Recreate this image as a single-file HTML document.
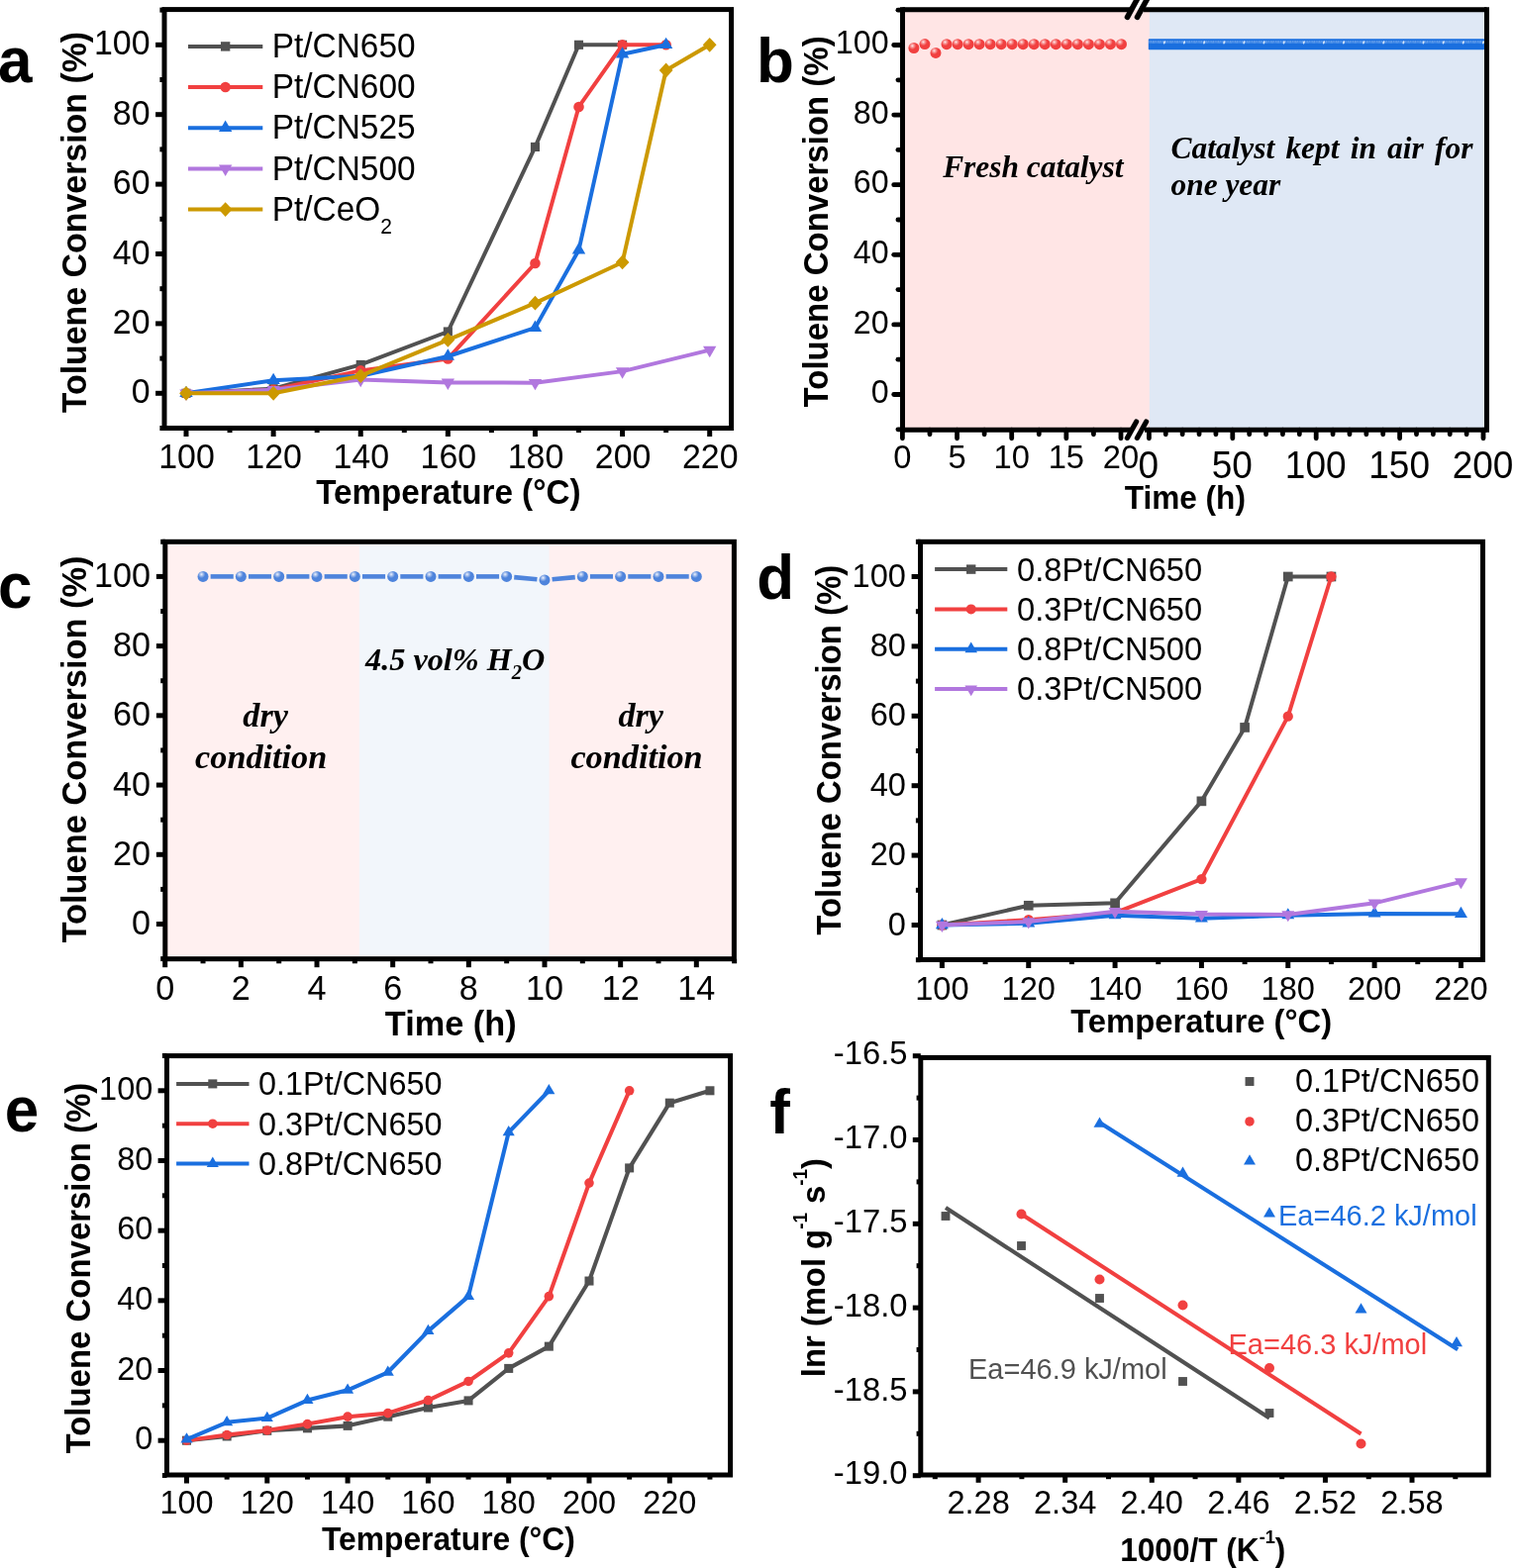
<!DOCTYPE html>
<html lang="en"><head><meta charset="utf-8"><title>Toluene conversion figure</title>
<style>
html,body{margin:0;padding:0;background:#fff;}
body{width:1529px;height:1584px;overflow:hidden;font-family:"Liberation Sans",Arial,sans-serif;}
svg{display:block;}
</style></head><body>
<svg width="1529" height="1584" viewBox="0 0 1529 1584" role="img" aria-label="Six-panel figure of toluene conversion data">
<defs>
<radialGradient id="gr" cx="0.36" cy="0.3" r="0.7" fx="0.36" fy="0.3">
<stop offset="0" stop-color="#FDE6E6"/><stop offset="0.25" stop-color="#F78A8A"/><stop offset="0.5" stop-color="#F14040"/><stop offset="1" stop-color="#F14040"/>
</radialGradient>
<radialGradient id="gb" cx="0.36" cy="0.3" r="0.7" fx="0.36" fy="0.3">
<stop offset="0" stop-color="#EDF2FC"/><stop offset="0.25" stop-color="#98B6EA"/><stop offset="0.5" stop-color="#4E84DC"/><stop offset="1" stop-color="#4E84DC"/>
</radialGradient>
</defs>
<rect x="0" y="0" width="1529" height="1584" fill="#fff"/>
<g id="panel-a" class="panel" role="img" aria-label="Toluene conversion versus temperature for Pt/CN catalysts and Pt/CeO2">
<rect x="166" y="9.6" width="572.6" height="422.9" fill="none" stroke="#000" stroke-width="5.0"/>
<line x1="188" y1="432.5" x2="188" y2="441" stroke="#000" stroke-width="5" stroke-linecap="butt"/>
<line x1="276.12" y1="432.5" x2="276.12" y2="441" stroke="#000" stroke-width="5" stroke-linecap="butt"/>
<line x1="364.23" y1="432.5" x2="364.23" y2="441" stroke="#000" stroke-width="5" stroke-linecap="butt"/>
<line x1="452.35" y1="432.5" x2="452.35" y2="441" stroke="#000" stroke-width="5" stroke-linecap="butt"/>
<line x1="540.46" y1="432.5" x2="540.46" y2="441" stroke="#000" stroke-width="5" stroke-linecap="butt"/>
<line x1="628.58" y1="432.5" x2="628.58" y2="441" stroke="#000" stroke-width="5" stroke-linecap="butt"/>
<line x1="716.7" y1="432.5" x2="716.7" y2="441" stroke="#000" stroke-width="5" stroke-linecap="butt"/>
<line x1="232.06" y1="432.5" x2="232.06" y2="437.1" stroke="#000" stroke-width="5" stroke-linecap="butt"/>
<line x1="320.17" y1="432.5" x2="320.17" y2="437.1" stroke="#000" stroke-width="5" stroke-linecap="butt"/>
<line x1="408.29" y1="432.5" x2="408.29" y2="437.1" stroke="#000" stroke-width="5" stroke-linecap="butt"/>
<line x1="496.41" y1="432.5" x2="496.41" y2="437.1" stroke="#000" stroke-width="5" stroke-linecap="butt"/>
<line x1="584.52" y1="432.5" x2="584.52" y2="437.1" stroke="#000" stroke-width="5" stroke-linecap="butt"/>
<line x1="672.64" y1="432.5" x2="672.64" y2="437.1" stroke="#000" stroke-width="5" stroke-linecap="butt"/>
<line x1="166" y1="397.3" x2="157.1" y2="397.3" stroke="#000" stroke-width="5" stroke-linecap="butt"/>
<line x1="166" y1="326.9" x2="157.1" y2="326.9" stroke="#000" stroke-width="5" stroke-linecap="butt"/>
<line x1="166" y1="256.5" x2="157.1" y2="256.5" stroke="#000" stroke-width="5" stroke-linecap="butt"/>
<line x1="166" y1="186.1" x2="157.1" y2="186.1" stroke="#000" stroke-width="5" stroke-linecap="butt"/>
<line x1="166" y1="115.7" x2="157.1" y2="115.7" stroke="#000" stroke-width="5" stroke-linecap="butt"/>
<line x1="166" y1="45.3" x2="157.1" y2="45.3" stroke="#000" stroke-width="5" stroke-linecap="butt"/>
<line x1="166" y1="432.5" x2="161.4" y2="432.5" stroke="#000" stroke-width="5" stroke-linecap="butt"/>
<line x1="166" y1="362.1" x2="161.4" y2="362.1" stroke="#000" stroke-width="5" stroke-linecap="butt"/>
<line x1="166" y1="291.7" x2="161.4" y2="291.7" stroke="#000" stroke-width="5" stroke-linecap="butt"/>
<line x1="166" y1="221.3" x2="161.4" y2="221.3" stroke="#000" stroke-width="5" stroke-linecap="butt"/>
<line x1="166" y1="150.9" x2="161.4" y2="150.9" stroke="#000" stroke-width="5" stroke-linecap="butt"/>
<line x1="166" y1="80.5" x2="161.4" y2="80.5" stroke="#000" stroke-width="5" stroke-linecap="butt"/>
<line x1="166" y1="10.1" x2="161.4" y2="10.1" stroke="#000" stroke-width="5" stroke-linecap="butt"/>
<text transform="translate(188.5,472.5) scale(1,1.04)" font-family="'Liberation Sans', Arial, sans-serif" font-size="33.9" font-weight="normal" text-anchor="middle" fill="#000" >100</text>
<text transform="translate(276.62,472.5) scale(1,1.04)" font-family="'Liberation Sans', Arial, sans-serif" font-size="33.9" font-weight="normal" text-anchor="middle" fill="#000" >120</text>
<text transform="translate(364.73,472.5) scale(1,1.04)" font-family="'Liberation Sans', Arial, sans-serif" font-size="33.9" font-weight="normal" text-anchor="middle" fill="#000" >140</text>
<text transform="translate(452.85,472.5) scale(1,1.04)" font-family="'Liberation Sans', Arial, sans-serif" font-size="33.9" font-weight="normal" text-anchor="middle" fill="#000" >160</text>
<text transform="translate(540.96,472.5) scale(1,1.04)" font-family="'Liberation Sans', Arial, sans-serif" font-size="33.9" font-weight="normal" text-anchor="middle" fill="#000" >180</text>
<text transform="translate(629.08,472.5) scale(1,1.04)" font-family="'Liberation Sans', Arial, sans-serif" font-size="33.9" font-weight="normal" text-anchor="middle" fill="#000" >200</text>
<text transform="translate(717.2,472.5) scale(1,1.04)" font-family="'Liberation Sans', Arial, sans-serif" font-size="33.9" font-weight="normal" text-anchor="middle" fill="#000" >220</text>
<text transform="translate(151.5,407.3) scale(1,1.04)" font-family="'Liberation Sans', Arial, sans-serif" font-size="33.9" font-weight="normal" text-anchor="end" fill="#000" >0</text>
<text transform="translate(151.5,336.9) scale(1,1.04)" font-family="'Liberation Sans', Arial, sans-serif" font-size="33.9" font-weight="normal" text-anchor="end" fill="#000" >20</text>
<text transform="translate(151.5,266.5) scale(1,1.04)" font-family="'Liberation Sans', Arial, sans-serif" font-size="33.9" font-weight="normal" text-anchor="end" fill="#000" >40</text>
<text transform="translate(151.5,196.1) scale(1,1.04)" font-family="'Liberation Sans', Arial, sans-serif" font-size="33.9" font-weight="normal" text-anchor="end" fill="#000" >60</text>
<text transform="translate(151.5,125.7) scale(1,1.04)" font-family="'Liberation Sans', Arial, sans-serif" font-size="33.9" font-weight="normal" text-anchor="end" fill="#000" >80</text>
<text transform="translate(151.5,55.3) scale(1,1.04)" font-family="'Liberation Sans', Arial, sans-serif" font-size="33.9" font-weight="normal" text-anchor="end" fill="#000" >100</text>
<text transform="translate(86.6,224.55) rotate(-90) scale(1,1.04)" font-family="'Liberation Sans', Arial, sans-serif" font-size="33.9" font-weight="bold" text-anchor="middle" fill="#000">Toluene Conversion (%)</text>
<text transform="translate(452.85,509.2) scale(1,1.04)" font-family="'Liberation Sans', Arial, sans-serif" font-size="33.2" font-weight="bold" text-anchor="middle" fill="#000" >Temperature (°C)</text>
<text transform="translate(-2,82.8) scale(1,1.05)" font-family="'Liberation Sans', Arial, sans-serif" font-size="62" font-weight="bold" text-anchor="start" fill="#000" >a</text>
<path d="M188 397.3L276.12 392.72L364.23 368.44L452.35 335L540.46 148.44L584.52 45.3L628.58 45.3" fill="none" stroke="#515151" stroke-width="4.0" stroke-linejoin="round"/>
<rect x="183.44" y="392.74" width="9.12" height="9.12" fill="#515151"/>
<rect x="271.56" y="388.16" width="9.12" height="9.12" fill="#515151"/>
<rect x="359.67" y="363.88" width="9.12" height="9.12" fill="#515151"/>
<rect x="447.79" y="330.44" width="9.12" height="9.12" fill="#515151"/>
<rect x="535.9" y="143.88" width="9.12" height="9.12" fill="#515151"/>
<rect x="579.96" y="40.74" width="9.12" height="9.12" fill="#515151"/>
<rect x="624.02" y="40.74" width="9.12" height="9.12" fill="#515151"/>
<path d="M188 397.3L276.12 393.78L364.23 374.42L452.35 362.45L540.46 266L584.52 107.96L628.58 45.3L672.64 45.3" fill="none" stroke="#F14040" stroke-width="4.0" stroke-linejoin="round"/>
<circle cx="188" cy="397.3" r="5.3" fill="#F14040"/>
<circle cx="276.12" cy="393.78" r="5.3" fill="#F14040"/>
<circle cx="364.23" cy="374.42" r="5.3" fill="#F14040"/>
<circle cx="452.35" cy="362.45" r="5.3" fill="#F14040"/>
<circle cx="540.46" cy="266" r="5.3" fill="#F14040"/>
<circle cx="584.52" cy="107.96" r="5.3" fill="#F14040"/>
<circle cx="628.58" cy="45.3" r="5.3" fill="#F14040"/>
<circle cx="672.64" cy="45.3" r="5.3" fill="#F14040"/>
<path d="M188 397.3L276.12 384.28L364.23 379.7L452.35 359.99L540.46 331.12L584.52 252.63L628.58 54.8L672.64 45.3" fill="none" stroke="#1A6FDF" stroke-width="4.0" stroke-linejoin="round"/>
<path d="M188 389.67L194.68 401.12L181.32 401.12Z" fill="#1A6FDF"/>
<path d="M276.12 376.64L282.79 388.09L269.44 388.09Z" fill="#1A6FDF"/>
<path d="M364.23 372.07L370.91 383.52L357.55 383.52Z" fill="#1A6FDF"/>
<path d="M452.35 352.36L459.03 363.8L445.67 363.8Z" fill="#1A6FDF"/>
<path d="M540.46 323.49L547.14 334.94L533.79 334.94Z" fill="#1A6FDF"/>
<path d="M584.52 245L591.2 256.44L577.84 256.44Z" fill="#1A6FDF"/>
<path d="M628.58 47.17L635.26 58.62L621.9 58.62Z" fill="#1A6FDF"/>
<path d="M672.64 37.67L679.32 49.12L665.96 49.12Z" fill="#1A6FDF"/>
<path d="M188 397.3L276.12 393.78L364.23 383.57L452.35 386.39L540.46 386.74L628.58 375.12L716.7 353.65" fill="none" stroke="#B177DE" stroke-width="4.0" stroke-linejoin="round"/>
<path d="M188 404.93L194.68 393.48L181.32 393.48Z" fill="#B177DE"/>
<path d="M276.12 401.41L282.79 389.96L269.44 389.96Z" fill="#B177DE"/>
<path d="M364.23 391.2L370.91 379.76L357.55 379.76Z" fill="#B177DE"/>
<path d="M452.35 394.02L459.03 382.57L445.67 382.57Z" fill="#B177DE"/>
<path d="M540.46 394.37L547.14 382.92L533.79 382.92Z" fill="#B177DE"/>
<path d="M628.58 382.76L635.26 371.31L621.9 371.31Z" fill="#B177DE"/>
<path d="M716.7 361.28L723.37 349.84L710.02 349.84Z" fill="#B177DE"/>
<path d="M188 397.3L276.12 397.3L364.23 379.7L452.35 343.44L540.46 306.13L628.58 264.95L672.64 71L716.7 45.3" fill="none" stroke="#CC9900" stroke-width="4.0" stroke-linejoin="round"/>
<path d="M188 389.88L194.89 397.3L188 404.72L181.11 397.3Z" fill="#CC9900"/>
<path d="M276.12 389.88L283.01 397.3L276.12 404.72L269.23 397.3Z" fill="#CC9900"/>
<path d="M364.23 372.28L371.12 379.7L364.23 387.12L357.34 379.7Z" fill="#CC9900"/>
<path d="M452.35 336.02L459.24 343.44L452.35 350.86L445.46 343.44Z" fill="#CC9900"/>
<path d="M540.46 298.71L547.35 306.13L540.46 313.55L533.57 306.13Z" fill="#CC9900"/>
<path d="M628.58 257.53L635.47 264.95L628.58 272.37L621.69 264.95Z" fill="#CC9900"/>
<path d="M672.64 63.58L679.53 71L672.64 78.42L665.75 71Z" fill="#CC9900"/>
<path d="M716.7 37.88L723.59 45.3L716.7 52.72L709.81 45.3Z" fill="#CC9900"/>
<line x1="190" y1="46.9" x2="265.3" y2="46.9" stroke="#515151" stroke-width="4.0"/>
<rect x="222.95" y="42.2" width="9.4" height="9.4" fill="#515151"/>
<text transform="translate(274.8,57.9) scale(1,1.04)" font-family="'Liberation Sans', Arial, sans-serif" font-size="33.4" font-weight="normal" text-anchor="start" fill="#000" >Pt/CN650</text>
<line x1="190" y1="88" x2="265.3" y2="88" stroke="#F14040" stroke-width="4.0"/>
<circle cx="227.65" cy="88" r="5.3" fill="#F14040"/>
<text transform="translate(274.8,99.12) scale(1,1.04)" font-family="'Liberation Sans', Arial, sans-serif" font-size="33.4" font-weight="normal" text-anchor="start" fill="#000" >Pt/CN600</text>
<line x1="190" y1="129.2" x2="265.3" y2="129.2" stroke="#1A6FDF" stroke-width="4.0"/>
<path d="M227.65 121.57L234.33 133.02L220.97 133.02Z" fill="#1A6FDF"/>
<text transform="translate(274.8,140.44) scale(1,1.04)" font-family="'Liberation Sans', Arial, sans-serif" font-size="33.4" font-weight="normal" text-anchor="start" fill="#000" >Pt/CN525</text>
<line x1="190" y1="170.4" x2="265.3" y2="170.4" stroke="#B177DE" stroke-width="4.0"/>
<path d="M227.65 178.03L234.33 166.58L220.97 166.58Z" fill="#B177DE"/>
<text transform="translate(274.8,181.76) scale(1,1.04)" font-family="'Liberation Sans', Arial, sans-serif" font-size="33.4" font-weight="normal" text-anchor="start" fill="#000" >Pt/CN500</text>
<line x1="190" y1="211.6" x2="265.3" y2="211.6" stroke="#CC9900" stroke-width="4.0"/>
<path d="M227.65 204.18L234.54 211.6L227.65 219.02L220.76 211.6Z" fill="#CC9900"/>
<text transform="translate(274.8,223.08) scale(1,1.04)" font-family="'Liberation Sans', Arial, sans-serif" font-size="33.4" font-weight="normal" text-anchor="start" fill="#000" >Pt/CeO<tspan font-size="21" dy="12.5">2</tspan></text>
</g>
<g id="panel-b" class="panel" role="img" aria-label="Stability of fresh catalyst and catalyst kept in air for one year">
<rect x="911.5" y="9.7" width="250.5" height="424.5" fill="#FFE5E5"/>
<rect x="1160.8" y="9.7" width="340.7" height="424.5" fill="#DFE8F5"/>
<circle cx="922.93" cy="48.5" r="5.5" fill="url(#gr)"/>
<circle cx="933.96" cy="44.6" r="5.5" fill="url(#gr)"/>
<circle cx="944.99" cy="53.4" r="5.5" fill="url(#gr)"/>
<circle cx="956.02" cy="44.7" r="5.5" fill="url(#gr)"/>
<circle cx="967.05" cy="44.7" r="5.5" fill="url(#gr)"/>
<circle cx="978.08" cy="44.7" r="5.5" fill="url(#gr)"/>
<circle cx="989.11" cy="44.7" r="5.5" fill="url(#gr)"/>
<circle cx="1000.14" cy="44.7" r="5.5" fill="url(#gr)"/>
<circle cx="1011.17" cy="44.7" r="5.5" fill="url(#gr)"/>
<circle cx="1022.2" cy="44.7" r="5.5" fill="url(#gr)"/>
<circle cx="1033.23" cy="44.7" r="5.5" fill="url(#gr)"/>
<circle cx="1044.26" cy="44.7" r="5.5" fill="url(#gr)"/>
<circle cx="1055.29" cy="44.7" r="5.5" fill="url(#gr)"/>
<circle cx="1066.32" cy="44.7" r="5.5" fill="url(#gr)"/>
<circle cx="1077.35" cy="44.7" r="5.5" fill="url(#gr)"/>
<circle cx="1088.38" cy="44.7" r="5.5" fill="url(#gr)"/>
<circle cx="1099.41" cy="44.7" r="5.5" fill="url(#gr)"/>
<circle cx="1110.44" cy="44.7" r="5.5" fill="url(#gr)"/>
<circle cx="1121.47" cy="44.7" r="5.5" fill="url(#gr)"/>
<circle cx="1132.5" cy="44.7" r="5.5" fill="url(#gr)"/>
<rect x="1159.8" y="39.2" width="339.2" height="11" rx="0.8" fill="#1A6FDF"/>
<line x1="1160.5" y1="42.6" x2="1499" y2="42.6" stroke="#5D9AEA" stroke-width="2.6" stroke-dasharray="0.7 0.5"/>
<line x1="1160.5" y1="41.9" x2="1499" y2="41.9" stroke="#8DB8F0" stroke-width="0.9" stroke-dasharray="0.8 0.9"/>
<ellipse cx="1175.9" cy="42.9" rx="0.9" ry="1.7" fill="#D4E4F9" transform="rotate(20 1175.9 42.9)"/>
<ellipse cx="1196.03" cy="42.9" rx="0.9" ry="1.7" fill="#D4E4F9" transform="rotate(20 1196.03 42.9)"/>
<ellipse cx="1216.16" cy="42.9" rx="0.9" ry="1.7" fill="#D4E4F9" transform="rotate(20 1216.16 42.9)"/>
<ellipse cx="1236.29" cy="42.9" rx="0.9" ry="1.7" fill="#D4E4F9" transform="rotate(20 1236.29 42.9)"/>
<ellipse cx="1256.42" cy="42.9" rx="0.9" ry="1.7" fill="#D4E4F9" transform="rotate(20 1256.42 42.9)"/>
<ellipse cx="1276.55" cy="42.9" rx="0.9" ry="1.7" fill="#D4E4F9" transform="rotate(20 1276.55 42.9)"/>
<ellipse cx="1296.68" cy="42.9" rx="0.9" ry="1.7" fill="#D4E4F9" transform="rotate(20 1296.68 42.9)"/>
<ellipse cx="1316.81" cy="42.9" rx="0.9" ry="1.7" fill="#D4E4F9" transform="rotate(20 1316.81 42.9)"/>
<ellipse cx="1336.94" cy="42.9" rx="0.9" ry="1.7" fill="#D4E4F9" transform="rotate(20 1336.94 42.9)"/>
<ellipse cx="1357.07" cy="42.9" rx="0.9" ry="1.7" fill="#D4E4F9" transform="rotate(20 1357.07 42.9)"/>
<ellipse cx="1377.2" cy="42.9" rx="0.9" ry="1.7" fill="#D4E4F9" transform="rotate(20 1377.2 42.9)"/>
<ellipse cx="1397.33" cy="42.9" rx="0.9" ry="1.7" fill="#D4E4F9" transform="rotate(20 1397.33 42.9)"/>
<ellipse cx="1417.46" cy="42.9" rx="0.9" ry="1.7" fill="#D4E4F9" transform="rotate(20 1417.46 42.9)"/>
<ellipse cx="1437.59" cy="42.9" rx="0.9" ry="1.7" fill="#D4E4F9" transform="rotate(20 1437.59 42.9)"/>
<ellipse cx="1457.72" cy="42.9" rx="0.9" ry="1.7" fill="#D4E4F9" transform="rotate(20 1457.72 42.9)"/>
<ellipse cx="1477.85" cy="42.9" rx="0.9" ry="1.7" fill="#D4E4F9" transform="rotate(20 1477.85 42.9)"/>
<ellipse cx="1497.98" cy="42.9" rx="0.9" ry="1.7" fill="#D4E4F9" transform="rotate(20 1497.98 42.9)"/>
<path d="M911.5 7.2V436.7M1501.5 7.2V436.7" stroke="#000" stroke-width="5.0" fill="none"/>
<path d="M911.5 9.7H1143M1155 9.7H1501.5M911.5 434.2H1143M1156 434.2H1501.5" stroke="#000" stroke-width="5.0" fill="none"/>
<line x1="1138.5" y1="17.3" x2="1148.4" y2="-0.8" stroke="#000" stroke-width="5.6" stroke-linecap="round"/>
<line x1="1138.4" y1="442.4" x2="1147.6" y2="426" stroke="#000" stroke-width="5.2" stroke-linecap="round"/>
<line x1="1148.5" y1="17.3" x2="1158.4" y2="-0.8" stroke="#000" stroke-width="5.6" stroke-linecap="round"/>
<line x1="1148.4" y1="442.4" x2="1157.6" y2="426" stroke="#000" stroke-width="5.2" stroke-linecap="round"/>
<line x1="911.4" y1="434.2" x2="911.4" y2="442.8" stroke="#000" stroke-width="4.8" stroke-linecap="round"/>
<line x1="966.55" y1="434.2" x2="966.55" y2="442.8" stroke="#000" stroke-width="4.8" stroke-linecap="round"/>
<line x1="1021.7" y1="434.2" x2="1021.7" y2="442.8" stroke="#000" stroke-width="4.8" stroke-linecap="round"/>
<line x1="1076.85" y1="434.2" x2="1076.85" y2="442.8" stroke="#000" stroke-width="4.8" stroke-linecap="round"/>
<line x1="1132" y1="434.2" x2="1132" y2="442.8" stroke="#000" stroke-width="4.8" stroke-linecap="round"/>
<line x1="938.98" y1="434.2" x2="938.98" y2="438.8" stroke="#000" stroke-width="4.8" stroke-linecap="round"/>
<line x1="994.12" y1="434.2" x2="994.12" y2="438.8" stroke="#000" stroke-width="4.8" stroke-linecap="round"/>
<line x1="1049.28" y1="434.2" x2="1049.28" y2="438.8" stroke="#000" stroke-width="4.8" stroke-linecap="round"/>
<line x1="1104.42" y1="434.2" x2="1104.42" y2="438.8" stroke="#000" stroke-width="4.8" stroke-linecap="round"/>
<line x1="1160.4" y1="434.2" x2="1160.4" y2="442.8" stroke="#000" stroke-width="4.8" stroke-linecap="round"/>
<line x1="1244.8" y1="434.2" x2="1244.8" y2="442.8" stroke="#000" stroke-width="4.8" stroke-linecap="round"/>
<line x1="1329.2" y1="434.2" x2="1329.2" y2="442.8" stroke="#000" stroke-width="4.8" stroke-linecap="round"/>
<line x1="1413.6" y1="434.2" x2="1413.6" y2="442.8" stroke="#000" stroke-width="4.8" stroke-linecap="round"/>
<line x1="1498" y1="434.2" x2="1498" y2="442.8" stroke="#000" stroke-width="4.8" stroke-linecap="round"/>
<line x1="1177.28" y1="434.2" x2="1177.28" y2="438.8" stroke="#000" stroke-width="4.8" stroke-linecap="round"/>
<line x1="1194.16" y1="434.2" x2="1194.16" y2="438.8" stroke="#000" stroke-width="4.8" stroke-linecap="round"/>
<line x1="1211.04" y1="434.2" x2="1211.04" y2="438.8" stroke="#000" stroke-width="4.8" stroke-linecap="round"/>
<line x1="1227.92" y1="434.2" x2="1227.92" y2="438.8" stroke="#000" stroke-width="4.8" stroke-linecap="round"/>
<line x1="1261.68" y1="434.2" x2="1261.68" y2="438.8" stroke="#000" stroke-width="4.8" stroke-linecap="round"/>
<line x1="1278.56" y1="434.2" x2="1278.56" y2="438.8" stroke="#000" stroke-width="4.8" stroke-linecap="round"/>
<line x1="1295.44" y1="434.2" x2="1295.44" y2="438.8" stroke="#000" stroke-width="4.8" stroke-linecap="round"/>
<line x1="1312.32" y1="434.2" x2="1312.32" y2="438.8" stroke="#000" stroke-width="4.8" stroke-linecap="round"/>
<line x1="1346.08" y1="434.2" x2="1346.08" y2="438.8" stroke="#000" stroke-width="4.8" stroke-linecap="round"/>
<line x1="1362.96" y1="434.2" x2="1362.96" y2="438.8" stroke="#000" stroke-width="4.8" stroke-linecap="round"/>
<line x1="1379.84" y1="434.2" x2="1379.84" y2="438.8" stroke="#000" stroke-width="4.8" stroke-linecap="round"/>
<line x1="1396.72" y1="434.2" x2="1396.72" y2="438.8" stroke="#000" stroke-width="4.8" stroke-linecap="round"/>
<line x1="1430.48" y1="434.2" x2="1430.48" y2="438.8" stroke="#000" stroke-width="4.8" stroke-linecap="round"/>
<line x1="1447.36" y1="434.2" x2="1447.36" y2="438.8" stroke="#000" stroke-width="4.8" stroke-linecap="round"/>
<line x1="1464.24" y1="434.2" x2="1464.24" y2="438.8" stroke="#000" stroke-width="4.8" stroke-linecap="round"/>
<line x1="1481.12" y1="434.2" x2="1481.12" y2="438.8" stroke="#000" stroke-width="4.8" stroke-linecap="round"/>
<line x1="911.5" y1="398.5" x2="902.7" y2="398.5" stroke="#000" stroke-width="4.8" stroke-linecap="round"/>
<line x1="911.5" y1="327.9" x2="902.7" y2="327.9" stroke="#000" stroke-width="4.8" stroke-linecap="round"/>
<line x1="911.5" y1="257.3" x2="902.7" y2="257.3" stroke="#000" stroke-width="4.8" stroke-linecap="round"/>
<line x1="911.5" y1="186.7" x2="902.7" y2="186.7" stroke="#000" stroke-width="4.8" stroke-linecap="round"/>
<line x1="911.5" y1="116.1" x2="902.7" y2="116.1" stroke="#000" stroke-width="4.8" stroke-linecap="round"/>
<line x1="911.5" y1="45.5" x2="902.7" y2="45.5" stroke="#000" stroke-width="4.8" stroke-linecap="round"/>
<line x1="911.5" y1="433.8" x2="906.9" y2="433.8" stroke="#000" stroke-width="4.8" stroke-linecap="round"/>
<line x1="911.5" y1="363.2" x2="906.9" y2="363.2" stroke="#000" stroke-width="4.8" stroke-linecap="round"/>
<line x1="911.5" y1="292.6" x2="906.9" y2="292.6" stroke="#000" stroke-width="4.8" stroke-linecap="round"/>
<line x1="911.5" y1="222" x2="906.9" y2="222" stroke="#000" stroke-width="4.8" stroke-linecap="round"/>
<line x1="911.5" y1="151.4" x2="906.9" y2="151.4" stroke="#000" stroke-width="4.8" stroke-linecap="round"/>
<line x1="911.5" y1="80.8" x2="906.9" y2="80.8" stroke="#000" stroke-width="4.8" stroke-linecap="round"/>
<line x1="911.5" y1="10.2" x2="906.9" y2="10.2" stroke="#000" stroke-width="4.8" stroke-linecap="round"/>
<text transform="translate(911.4,472.8) scale(1,1.04)" font-family="'Liberation Sans', Arial, sans-serif" font-size="32.7" font-weight="normal" text-anchor="middle" fill="#000" >0</text>
<text transform="translate(966.55,472.8) scale(1,1.04)" font-family="'Liberation Sans', Arial, sans-serif" font-size="32.7" font-weight="normal" text-anchor="middle" fill="#000" >5</text>
<text transform="translate(1021.7,472.8) scale(1,1.04)" font-family="'Liberation Sans', Arial, sans-serif" font-size="32.7" font-weight="normal" text-anchor="middle" fill="#000" >10</text>
<text transform="translate(1076.85,472.8) scale(1,1.04)" font-family="'Liberation Sans', Arial, sans-serif" font-size="32.7" font-weight="normal" text-anchor="middle" fill="#000" >15</text>
<text transform="translate(1132,472.8) scale(1,1.04)" font-family="'Liberation Sans', Arial, sans-serif" font-size="32.7" font-weight="normal" text-anchor="middle" fill="#000" >20</text>
<text transform="translate(1159.9,482.6) scale(1,1.04)" font-family="'Liberation Sans', Arial, sans-serif" font-size="37" font-weight="normal" text-anchor="middle" fill="#000" >0</text>
<text transform="translate(1244.3,482.6) scale(1,1.04)" font-family="'Liberation Sans', Arial, sans-serif" font-size="37" font-weight="normal" text-anchor="middle" fill="#000" >50</text>
<text transform="translate(1328.7,482.6) scale(1,1.04)" font-family="'Liberation Sans', Arial, sans-serif" font-size="37" font-weight="normal" text-anchor="middle" fill="#000" >100</text>
<text transform="translate(1413.1,482.6) scale(1,1.04)" font-family="'Liberation Sans', Arial, sans-serif" font-size="37" font-weight="normal" text-anchor="middle" fill="#000" >150</text>
<text transform="translate(1497.5,482.6) scale(1,1.04)" font-family="'Liberation Sans', Arial, sans-serif" font-size="37" font-weight="normal" text-anchor="middle" fill="#000" >200</text>
<text transform="translate(897.6,407.2) scale(1,1.04)" font-family="'Liberation Sans', Arial, sans-serif" font-size="32.2" font-weight="normal" text-anchor="end" fill="#000" >0</text>
<text transform="translate(897.6,336.6) scale(1,1.04)" font-family="'Liberation Sans', Arial, sans-serif" font-size="32.2" font-weight="normal" text-anchor="end" fill="#000" >20</text>
<text transform="translate(897.6,266) scale(1,1.04)" font-family="'Liberation Sans', Arial, sans-serif" font-size="32.2" font-weight="normal" text-anchor="end" fill="#000" >40</text>
<text transform="translate(897.6,195.4) scale(1,1.04)" font-family="'Liberation Sans', Arial, sans-serif" font-size="32.2" font-weight="normal" text-anchor="end" fill="#000" >60</text>
<text transform="translate(897.6,124.8) scale(1,1.04)" font-family="'Liberation Sans', Arial, sans-serif" font-size="32.2" font-weight="normal" text-anchor="end" fill="#000" >80</text>
<text transform="translate(897.6,54.2) scale(1,1.04)" font-family="'Liberation Sans', Arial, sans-serif" font-size="32.2" font-weight="normal" text-anchor="end" fill="#000" >100</text>
<text transform="translate(835.6,223.9) rotate(-90) scale(1,1.04)" font-family="'Liberation Sans', Arial, sans-serif" font-size="33.0" font-weight="bold" text-anchor="middle" fill="#000">Toluene Conversion (%)</text>
<text transform="translate(1196.8,514) scale(1,1.04)" font-family="'Liberation Sans', Arial, sans-serif" font-size="31.6" font-weight="bold" text-anchor="middle" fill="#000" >Time (h)</text>
<text transform="translate(763.9,82.8) scale(1,1.03)" font-family="'Liberation Sans', Arial, sans-serif" font-size="62" font-weight="bold" text-anchor="start" fill="#000" >b</text>
<text transform="translate(1043.3,179) scale(1,1.0)" font-family="'Liberation Serif', 'Times New Roman', serif" font-size="31.4" font-weight="bold" text-anchor="middle" fill="#000" font-style="italic">Fresh catalyst</text>
<text transform="translate(1182.5,159.7) scale(1,1.0)" font-family="'Liberation Serif', 'Times New Roman', serif" font-size="31.4" font-weight="bold" text-anchor="start" fill="#000" font-style="italic" word-spacing="3.4">Catalyst kept in air for</text>
<text transform="translate(1182.5,196.7) scale(1,1.0)" font-family="'Liberation Serif', 'Times New Roman', serif" font-size="31.4" font-weight="bold" text-anchor="start" fill="#000" font-style="italic">one year</text>
</g>
<g id="panel-c" class="panel" role="img" aria-label="Toluene conversion under dry and 4.5 vol% H2O conditions">
<rect x="166.8" y="547.3" width="574.6" height="421.4" fill="#FFF0F0"/>
<rect x="362.8" y="547.3" width="191.8" height="421.4" fill="#F2F6FB"/>
<line x1="212.63" y1="582.4" x2="235.76" y2="582.4" stroke="#4E84DC" stroke-width="4.6"/>
<line x1="250.96" y1="582.4" x2="274.09" y2="582.4" stroke="#4E84DC" stroke-width="4.6"/>
<line x1="289.29" y1="582.4" x2="312.42" y2="582.4" stroke="#4E84DC" stroke-width="4.6"/>
<line x1="327.62" y1="582.4" x2="350.75" y2="582.4" stroke="#4E84DC" stroke-width="4.6"/>
<line x1="365.95" y1="582.4" x2="389.08" y2="582.4" stroke="#4E84DC" stroke-width="4.6"/>
<line x1="404.28" y1="582.4" x2="427.41" y2="582.4" stroke="#4E84DC" stroke-width="4.6"/>
<line x1="442.61" y1="582.4" x2="465.74" y2="582.4" stroke="#4E84DC" stroke-width="4.6"/>
<line x1="480.94" y1="582.4" x2="504.07" y2="582.4" stroke="#4E84DC" stroke-width="4.6"/>
<line x1="519.24" y1="583.09" x2="542.43" y2="585.22" stroke="#4E84DC" stroke-width="4.6"/>
<line x1="557.57" y1="585.22" x2="580.76" y2="583.09" stroke="#4E84DC" stroke-width="4.6"/>
<line x1="595.93" y1="582.4" x2="619.06" y2="582.4" stroke="#4E84DC" stroke-width="4.6"/>
<line x1="634.26" y1="582.4" x2="657.39" y2="582.4" stroke="#4E84DC" stroke-width="4.6"/>
<line x1="672.59" y1="582.4" x2="695.72" y2="582.4" stroke="#4E84DC" stroke-width="4.6"/>
<circle cx="205.03" cy="582.4" r="5.5" fill="url(#gb)"/>
<circle cx="243.36" cy="582.4" r="5.5" fill="url(#gb)"/>
<circle cx="281.69" cy="582.4" r="5.5" fill="url(#gb)"/>
<circle cx="320.02" cy="582.4" r="5.5" fill="url(#gb)"/>
<circle cx="358.35" cy="582.4" r="5.5" fill="url(#gb)"/>
<circle cx="396.68" cy="582.4" r="5.5" fill="url(#gb)"/>
<circle cx="435.01" cy="582.4" r="5.5" fill="url(#gb)"/>
<circle cx="473.34" cy="582.4" r="5.5" fill="url(#gb)"/>
<circle cx="511.67" cy="582.4" r="5.5" fill="url(#gb)"/>
<circle cx="550" cy="585.91" r="5.5" fill="url(#gb)"/>
<circle cx="588.33" cy="582.4" r="5.5" fill="url(#gb)"/>
<circle cx="626.66" cy="582.4" r="5.5" fill="url(#gb)"/>
<circle cx="664.99" cy="582.4" r="5.5" fill="url(#gb)"/>
<circle cx="703.32" cy="582.4" r="5.5" fill="url(#gb)"/>
<rect x="166.8" y="547.3" width="574.6" height="421.4" fill="none" stroke="#000" stroke-width="5.0"/>
<line x1="166.7" y1="968.7" x2="166.7" y2="977.2" stroke="#000" stroke-width="5" stroke-linecap="butt"/>
<line x1="243.36" y1="968.7" x2="243.36" y2="977.2" stroke="#000" stroke-width="5" stroke-linecap="butt"/>
<line x1="320.02" y1="968.7" x2="320.02" y2="977.2" stroke="#000" stroke-width="5" stroke-linecap="butt"/>
<line x1="396.68" y1="968.7" x2="396.68" y2="977.2" stroke="#000" stroke-width="5" stroke-linecap="butt"/>
<line x1="473.34" y1="968.7" x2="473.34" y2="977.2" stroke="#000" stroke-width="5" stroke-linecap="butt"/>
<line x1="550" y1="968.7" x2="550" y2="977.2" stroke="#000" stroke-width="5" stroke-linecap="butt"/>
<line x1="626.66" y1="968.7" x2="626.66" y2="977.2" stroke="#000" stroke-width="5" stroke-linecap="butt"/>
<line x1="703.32" y1="968.7" x2="703.32" y2="977.2" stroke="#000" stroke-width="5" stroke-linecap="butt"/>
<line x1="205.03" y1="968.7" x2="205.03" y2="973.3" stroke="#000" stroke-width="5" stroke-linecap="butt"/>
<line x1="281.69" y1="968.7" x2="281.69" y2="973.3" stroke="#000" stroke-width="5" stroke-linecap="butt"/>
<line x1="358.35" y1="968.7" x2="358.35" y2="973.3" stroke="#000" stroke-width="5" stroke-linecap="butt"/>
<line x1="435.01" y1="968.7" x2="435.01" y2="973.3" stroke="#000" stroke-width="5" stroke-linecap="butt"/>
<line x1="511.67" y1="968.7" x2="511.67" y2="973.3" stroke="#000" stroke-width="5" stroke-linecap="butt"/>
<line x1="588.33" y1="968.7" x2="588.33" y2="973.3" stroke="#000" stroke-width="5" stroke-linecap="butt"/>
<line x1="664.99" y1="968.7" x2="664.99" y2="973.3" stroke="#000" stroke-width="5" stroke-linecap="butt"/>
<line x1="741.65" y1="968.7" x2="741.65" y2="973.3" stroke="#000" stroke-width="5" stroke-linecap="butt"/>
<line x1="166.8" y1="933.5" x2="157.9" y2="933.5" stroke="#000" stroke-width="5" stroke-linecap="butt"/>
<line x1="166.8" y1="863.28" x2="157.9" y2="863.28" stroke="#000" stroke-width="5" stroke-linecap="butt"/>
<line x1="166.8" y1="793.06" x2="157.9" y2="793.06" stroke="#000" stroke-width="5" stroke-linecap="butt"/>
<line x1="166.8" y1="722.84" x2="157.9" y2="722.84" stroke="#000" stroke-width="5" stroke-linecap="butt"/>
<line x1="166.8" y1="652.62" x2="157.9" y2="652.62" stroke="#000" stroke-width="5" stroke-linecap="butt"/>
<line x1="166.8" y1="582.4" x2="157.9" y2="582.4" stroke="#000" stroke-width="5" stroke-linecap="butt"/>
<line x1="166.8" y1="968.61" x2="162.2" y2="968.61" stroke="#000" stroke-width="5" stroke-linecap="butt"/>
<line x1="166.8" y1="898.39" x2="162.2" y2="898.39" stroke="#000" stroke-width="5" stroke-linecap="butt"/>
<line x1="166.8" y1="828.17" x2="162.2" y2="828.17" stroke="#000" stroke-width="5" stroke-linecap="butt"/>
<line x1="166.8" y1="757.95" x2="162.2" y2="757.95" stroke="#000" stroke-width="5" stroke-linecap="butt"/>
<line x1="166.8" y1="687.73" x2="162.2" y2="687.73" stroke="#000" stroke-width="5" stroke-linecap="butt"/>
<line x1="166.8" y1="617.51" x2="162.2" y2="617.51" stroke="#000" stroke-width="5" stroke-linecap="butt"/>
<line x1="166.8" y1="547.29" x2="162.2" y2="547.29" stroke="#000" stroke-width="5" stroke-linecap="butt"/>
<text transform="translate(166.7,1010.3) scale(1,1.04)" font-family="'Liberation Sans', Arial, sans-serif" font-size="34.2" font-weight="normal" text-anchor="middle" fill="#000" >0</text>
<text transform="translate(243.36,1010.3) scale(1,1.04)" font-family="'Liberation Sans', Arial, sans-serif" font-size="34.2" font-weight="normal" text-anchor="middle" fill="#000" >2</text>
<text transform="translate(320.02,1010.3) scale(1,1.04)" font-family="'Liberation Sans', Arial, sans-serif" font-size="34.2" font-weight="normal" text-anchor="middle" fill="#000" >4</text>
<text transform="translate(396.68,1010.3) scale(1,1.04)" font-family="'Liberation Sans', Arial, sans-serif" font-size="34.2" font-weight="normal" text-anchor="middle" fill="#000" >6</text>
<text transform="translate(473.34,1010.3) scale(1,1.04)" font-family="'Liberation Sans', Arial, sans-serif" font-size="34.2" font-weight="normal" text-anchor="middle" fill="#000" >8</text>
<text transform="translate(550,1010.3) scale(1,1.04)" font-family="'Liberation Sans', Arial, sans-serif" font-size="34.2" font-weight="normal" text-anchor="middle" fill="#000" >10</text>
<text transform="translate(626.66,1010.3) scale(1,1.04)" font-family="'Liberation Sans', Arial, sans-serif" font-size="34.2" font-weight="normal" text-anchor="middle" fill="#000" >12</text>
<text transform="translate(703.32,1010.3) scale(1,1.04)" font-family="'Liberation Sans', Arial, sans-serif" font-size="34.2" font-weight="normal" text-anchor="middle" fill="#000" >14</text>
<text transform="translate(152,944) scale(1,1.04)" font-family="'Liberation Sans', Arial, sans-serif" font-size="34.2" font-weight="normal" text-anchor="end" fill="#000" >0</text>
<text transform="translate(152,873.78) scale(1,1.04)" font-family="'Liberation Sans', Arial, sans-serif" font-size="34.2" font-weight="normal" text-anchor="end" fill="#000" >20</text>
<text transform="translate(152,803.56) scale(1,1.04)" font-family="'Liberation Sans', Arial, sans-serif" font-size="34.2" font-weight="normal" text-anchor="end" fill="#000" >40</text>
<text transform="translate(152,733.34) scale(1,1.04)" font-family="'Liberation Sans', Arial, sans-serif" font-size="34.2" font-weight="normal" text-anchor="end" fill="#000" >60</text>
<text transform="translate(152,663.12) scale(1,1.04)" font-family="'Liberation Sans', Arial, sans-serif" font-size="34.2" font-weight="normal" text-anchor="end" fill="#000" >80</text>
<text transform="translate(152,592.9) scale(1,1.04)" font-family="'Liberation Sans', Arial, sans-serif" font-size="34.2" font-weight="normal" text-anchor="end" fill="#000" >100</text>
<text transform="translate(87,757) rotate(-90) scale(1,1.04)" font-family="'Liberation Sans', Arial, sans-serif" font-size="34.4" font-weight="bold" text-anchor="middle" fill="#000">Toluene Conversion (%)</text>
<text transform="translate(455.2,1045.8) scale(1,1.04)" font-family="'Liberation Sans', Arial, sans-serif" font-size="34.3" font-weight="bold" text-anchor="middle" fill="#000" >Time (h)</text>
<text transform="translate(-2,614.3) scale(1,1.05)" font-family="'Liberation Sans', Arial, sans-serif" font-size="62" font-weight="bold" text-anchor="start" fill="#000" >c</text>
<text transform="translate(459.7,676.8) scale(1.03,1.03)" font-family="'Liberation Serif', 'Times New Roman', serif" font-size="31.3" font-weight="bold" text-anchor="middle" fill="#000" font-style="italic">4.5 vol% H<tspan font-size="20" dy="9">2</tspan><tspan dy="-9">O</tspan></text>
<text transform="translate(268.1,734.3) scale(1.06,1.03)" font-family="'Liberation Serif', 'Times New Roman', serif" font-size="32.3" font-weight="bold" text-anchor="middle" fill="#000" font-style="italic">dry</text>
<text transform="translate(263.7,776.1) scale(1.06,1.03)" font-family="'Liberation Serif', 'Times New Roman', serif" font-size="32.3" font-weight="bold" text-anchor="middle" fill="#000" font-style="italic">condition</text>
<text transform="translate(647.2,734.3) scale(1.06,1.03)" font-family="'Liberation Serif', 'Times New Roman', serif" font-size="32.3" font-weight="bold" text-anchor="middle" fill="#000" font-style="italic">dry</text>
<text transform="translate(643,776.1) scale(1.06,1.03)" font-family="'Liberation Serif', 'Times New Roman', serif" font-size="32.3" font-weight="bold" text-anchor="middle" fill="#000" font-style="italic">condition</text>
</g>
<g id="panel-d" class="panel" role="img" aria-label="Toluene conversion for 0.8Pt and 0.3Pt on CN650 and CN500">
<rect x="929.5" y="547.3" width="568" height="422.2" fill="none" stroke="#000" stroke-width="5.0"/>
<line x1="951.4" y1="969.5" x2="951.4" y2="978" stroke="#000" stroke-width="5" stroke-linecap="butt"/>
<line x1="1038.74" y1="969.5" x2="1038.74" y2="978" stroke="#000" stroke-width="5" stroke-linecap="butt"/>
<line x1="1126.08" y1="969.5" x2="1126.08" y2="978" stroke="#000" stroke-width="5" stroke-linecap="butt"/>
<line x1="1213.42" y1="969.5" x2="1213.42" y2="978" stroke="#000" stroke-width="5" stroke-linecap="butt"/>
<line x1="1300.76" y1="969.5" x2="1300.76" y2="978" stroke="#000" stroke-width="5" stroke-linecap="butt"/>
<line x1="1388.1" y1="969.5" x2="1388.1" y2="978" stroke="#000" stroke-width="5" stroke-linecap="butt"/>
<line x1="1475.44" y1="969.5" x2="1475.44" y2="978" stroke="#000" stroke-width="5" stroke-linecap="butt"/>
<line x1="995.07" y1="969.5" x2="995.07" y2="974.1" stroke="#000" stroke-width="5" stroke-linecap="butt"/>
<line x1="1082.41" y1="969.5" x2="1082.41" y2="974.1" stroke="#000" stroke-width="5" stroke-linecap="butt"/>
<line x1="1169.75" y1="969.5" x2="1169.75" y2="974.1" stroke="#000" stroke-width="5" stroke-linecap="butt"/>
<line x1="1257.09" y1="969.5" x2="1257.09" y2="974.1" stroke="#000" stroke-width="5" stroke-linecap="butt"/>
<line x1="1344.43" y1="969.5" x2="1344.43" y2="974.1" stroke="#000" stroke-width="5" stroke-linecap="butt"/>
<line x1="1431.77" y1="969.5" x2="1431.77" y2="974.1" stroke="#000" stroke-width="5" stroke-linecap="butt"/>
<line x1="929.5" y1="934.5" x2="920.6" y2="934.5" stroke="#000" stroke-width="5" stroke-linecap="butt"/>
<line x1="929.5" y1="864.1" x2="920.6" y2="864.1" stroke="#000" stroke-width="5" stroke-linecap="butt"/>
<line x1="929.5" y1="793.7" x2="920.6" y2="793.7" stroke="#000" stroke-width="5" stroke-linecap="butt"/>
<line x1="929.5" y1="723.3" x2="920.6" y2="723.3" stroke="#000" stroke-width="5" stroke-linecap="butt"/>
<line x1="929.5" y1="652.9" x2="920.6" y2="652.9" stroke="#000" stroke-width="5" stroke-linecap="butt"/>
<line x1="929.5" y1="582.5" x2="920.6" y2="582.5" stroke="#000" stroke-width="5" stroke-linecap="butt"/>
<line x1="929.5" y1="969.7" x2="924.9" y2="969.7" stroke="#000" stroke-width="5" stroke-linecap="butt"/>
<line x1="929.5" y1="899.3" x2="924.9" y2="899.3" stroke="#000" stroke-width="5" stroke-linecap="butt"/>
<line x1="929.5" y1="828.9" x2="924.9" y2="828.9" stroke="#000" stroke-width="5" stroke-linecap="butt"/>
<line x1="929.5" y1="758.5" x2="924.9" y2="758.5" stroke="#000" stroke-width="5" stroke-linecap="butt"/>
<line x1="929.5" y1="688.1" x2="924.9" y2="688.1" stroke="#000" stroke-width="5" stroke-linecap="butt"/>
<line x1="929.5" y1="617.7" x2="924.9" y2="617.7" stroke="#000" stroke-width="5" stroke-linecap="butt"/>
<line x1="929.5" y1="547.3" x2="924.9" y2="547.3" stroke="#000" stroke-width="5" stroke-linecap="butt"/>
<text transform="translate(951.4,1009.7) scale(1,1.04)" font-family="'Liberation Sans', Arial, sans-serif" font-size="32.6" font-weight="normal" text-anchor="middle" fill="#000" >100</text>
<text transform="translate(1038.74,1009.7) scale(1,1.04)" font-family="'Liberation Sans', Arial, sans-serif" font-size="32.6" font-weight="normal" text-anchor="middle" fill="#000" >120</text>
<text transform="translate(1126.08,1009.7) scale(1,1.04)" font-family="'Liberation Sans', Arial, sans-serif" font-size="32.6" font-weight="normal" text-anchor="middle" fill="#000" >140</text>
<text transform="translate(1213.42,1009.7) scale(1,1.04)" font-family="'Liberation Sans', Arial, sans-serif" font-size="32.6" font-weight="normal" text-anchor="middle" fill="#000" >160</text>
<text transform="translate(1300.76,1009.7) scale(1,1.04)" font-family="'Liberation Sans', Arial, sans-serif" font-size="32.6" font-weight="normal" text-anchor="middle" fill="#000" >180</text>
<text transform="translate(1388.1,1009.7) scale(1,1.04)" font-family="'Liberation Sans', Arial, sans-serif" font-size="32.6" font-weight="normal" text-anchor="middle" fill="#000" >200</text>
<text transform="translate(1475.44,1009.7) scale(1,1.04)" font-family="'Liberation Sans', Arial, sans-serif" font-size="32.6" font-weight="normal" text-anchor="middle" fill="#000" >220</text>
<text transform="translate(915,944.5) scale(1,1.04)" font-family="'Liberation Sans', Arial, sans-serif" font-size="32.6" font-weight="normal" text-anchor="end" fill="#000" >0</text>
<text transform="translate(915,874.1) scale(1,1.04)" font-family="'Liberation Sans', Arial, sans-serif" font-size="32.6" font-weight="normal" text-anchor="end" fill="#000" >20</text>
<text transform="translate(915,803.7) scale(1,1.04)" font-family="'Liberation Sans', Arial, sans-serif" font-size="32.6" font-weight="normal" text-anchor="end" fill="#000" >40</text>
<text transform="translate(915,733.3) scale(1,1.04)" font-family="'Liberation Sans', Arial, sans-serif" font-size="32.6" font-weight="normal" text-anchor="end" fill="#000" >60</text>
<text transform="translate(915,662.9) scale(1,1.04)" font-family="'Liberation Sans', Arial, sans-serif" font-size="32.6" font-weight="normal" text-anchor="end" fill="#000" >80</text>
<text transform="translate(915,592.5) scale(1,1.04)" font-family="'Liberation Sans', Arial, sans-serif" font-size="32.6" font-weight="normal" text-anchor="end" fill="#000" >100</text>
<text transform="translate(848.7,757.75) rotate(-90) scale(1,1.04)" font-family="'Liberation Sans', Arial, sans-serif" font-size="32.9" font-weight="bold" text-anchor="middle" fill="#000">Toluene Conversion (%)</text>
<text transform="translate(1213.2,1042.8) scale(1,1.04)" font-family="'Liberation Sans', Arial, sans-serif" font-size="32.8" font-weight="bold" text-anchor="middle" fill="#000" >Temperature (°C)</text>
<text transform="translate(764.3,605.2) scale(1,1.02)" font-family="'Liberation Sans', Arial, sans-serif" font-size="62" font-weight="bold" text-anchor="start" fill="#000" >d</text>
<path d="M951.4 934.5L1038.74 914.79L1126.08 912.32L1213.42 809.36L1257.09 734.92L1300.76 582.5L1344.43 582.5" fill="none" stroke="#515151" stroke-width="4.0" stroke-linejoin="round"/>
<rect x="946.56" y="929.66" width="9.68" height="9.68" fill="#515151"/>
<rect x="1033.9" y="909.95" width="9.68" height="9.68" fill="#515151"/>
<rect x="1121.24" y="907.48" width="9.68" height="9.68" fill="#515151"/>
<rect x="1208.58" y="804.52" width="9.68" height="9.68" fill="#515151"/>
<rect x="1252.25" y="730.07" width="9.68" height="9.68" fill="#515151"/>
<rect x="1295.92" y="577.66" width="9.68" height="9.68" fill="#515151"/>
<rect x="1339.59" y="577.66" width="9.68" height="9.68" fill="#515151"/>
<path d="M951.4 934.5L1038.74 929.22L1126.08 922.18L1213.42 888.04L1300.76 723.65L1344.43 582.5" fill="none" stroke="#F14040" stroke-width="4.0" stroke-linejoin="round"/>
<circle cx="951.4" cy="934.5" r="5.15" fill="#F14040"/>
<circle cx="1038.74" cy="929.22" r="5.15" fill="#F14040"/>
<circle cx="1126.08" cy="922.18" r="5.15" fill="#F14040"/>
<circle cx="1213.42" cy="888.04" r="5.15" fill="#F14040"/>
<circle cx="1300.76" cy="723.65" r="5.15" fill="#F14040"/>
<circle cx="1344.43" cy="582.5" r="5.15" fill="#F14040"/>
<path d="M951.4 934.5L1038.74 932.74L1126.08 924.64L1213.42 927.81L1300.76 924.64L1388.1 922.88L1475.44 923.24" fill="none" stroke="#1A6FDF" stroke-width="4.0" stroke-linejoin="round"/>
<path d="M951.4 927.08L957.89 938.21L944.91 938.21Z" fill="#1A6FDF"/>
<path d="M1038.74 925.32L1045.23 936.45L1032.25 936.45Z" fill="#1A6FDF"/>
<path d="M1126.08 917.23L1132.57 928.35L1119.59 928.35Z" fill="#1A6FDF"/>
<path d="M1213.42 920.4L1219.91 931.52L1206.93 931.52Z" fill="#1A6FDF"/>
<path d="M1300.76 917.23L1307.25 928.35L1294.27 928.35Z" fill="#1A6FDF"/>
<path d="M1388.1 915.47L1394.59 926.59L1381.61 926.59Z" fill="#1A6FDF"/>
<path d="M1475.44 915.82L1481.93 926.94L1468.95 926.94Z" fill="#1A6FDF"/>
<path d="M951.4 934.5L1038.74 930.98L1126.08 920.77L1213.42 923.59L1300.76 923.94L1388.1 912.32L1475.44 890.85" fill="none" stroke="#B177DE" stroke-width="4.0" stroke-linejoin="round"/>
<path d="M951.4 941.92L957.89 930.79L944.91 930.79Z" fill="#B177DE"/>
<path d="M1038.74 938.4L1045.23 927.27L1032.25 927.27Z" fill="#B177DE"/>
<path d="M1126.08 928.19L1132.57 917.06L1119.59 917.06Z" fill="#B177DE"/>
<path d="M1213.42 931L1219.91 919.88L1206.93 919.88Z" fill="#B177DE"/>
<path d="M1300.76 931.36L1307.25 920.23L1294.27 920.23Z" fill="#B177DE"/>
<path d="M1388.1 919.74L1394.59 908.62L1381.61 908.62Z" fill="#B177DE"/>
<path d="M1475.44 898.27L1481.93 887.14L1468.95 887.14Z" fill="#B177DE"/>
<line x1="944.1" y1="575.1" x2="1017.3" y2="575.1" stroke="#515151" stroke-width="4.0"/>
<rect x="976" y="570.4" width="9.4" height="9.4" fill="#515151"/>
<text transform="translate(1027,586.5) scale(1,1.04)" font-family="'Liberation Sans', Arial, sans-serif" font-size="32.7" font-weight="normal" text-anchor="start" fill="#000" >0.8Pt/CN650</text>
<line x1="944.1" y1="615.4" x2="1017.3" y2="615.4" stroke="#F14040" stroke-width="4.0"/>
<circle cx="980.7" cy="615.4" r="5" fill="#F14040"/>
<text transform="translate(1027,626.8) scale(1,1.04)" font-family="'Liberation Sans', Arial, sans-serif" font-size="32.7" font-weight="normal" text-anchor="start" fill="#000" >0.3Pt/CN650</text>
<line x1="944.1" y1="655.7" x2="1017.3" y2="655.7" stroke="#1A6FDF" stroke-width="4.0"/>
<path d="M980.7 648.5L987 659.3L974.4 659.3Z" fill="#1A6FDF"/>
<text transform="translate(1027,667.1) scale(1,1.04)" font-family="'Liberation Sans', Arial, sans-serif" font-size="32.7" font-weight="normal" text-anchor="start" fill="#000" >0.8Pt/CN500</text>
<line x1="944.1" y1="696" x2="1017.3" y2="696" stroke="#B177DE" stroke-width="4.0"/>
<path d="M980.7 703.2L987 692.4L974.4 692.4Z" fill="#B177DE"/>
<text transform="translate(1027,707.4) scale(1,1.04)" font-family="'Liberation Sans', Arial, sans-serif" font-size="32.7" font-weight="normal" text-anchor="start" fill="#000" >0.3Pt/CN500</text>
</g>
<g id="panel-e" class="panel" role="img" aria-label="Toluene conversion for 0.1Pt, 0.3Pt and 0.8Pt on CN650">
<rect x="168.5" y="1066.6" width="569.1" height="423.4" fill="none" stroke="#000" stroke-width="5.0"/>
<line x1="188.5" y1="1490" x2="188.5" y2="1498.5" stroke="#000" stroke-width="5" stroke-linecap="butt"/>
<line x1="269.8" y1="1490" x2="269.8" y2="1498.5" stroke="#000" stroke-width="5" stroke-linecap="butt"/>
<line x1="351.1" y1="1490" x2="351.1" y2="1498.5" stroke="#000" stroke-width="5" stroke-linecap="butt"/>
<line x1="432.4" y1="1490" x2="432.4" y2="1498.5" stroke="#000" stroke-width="5" stroke-linecap="butt"/>
<line x1="513.7" y1="1490" x2="513.7" y2="1498.5" stroke="#000" stroke-width="5" stroke-linecap="butt"/>
<line x1="595" y1="1490" x2="595" y2="1498.5" stroke="#000" stroke-width="5" stroke-linecap="butt"/>
<line x1="676.3" y1="1490" x2="676.3" y2="1498.5" stroke="#000" stroke-width="5" stroke-linecap="butt"/>
<line x1="229.15" y1="1490" x2="229.15" y2="1494.6" stroke="#000" stroke-width="5" stroke-linecap="butt"/>
<line x1="310.45" y1="1490" x2="310.45" y2="1494.6" stroke="#000" stroke-width="5" stroke-linecap="butt"/>
<line x1="391.75" y1="1490" x2="391.75" y2="1494.6" stroke="#000" stroke-width="5" stroke-linecap="butt"/>
<line x1="473.05" y1="1490" x2="473.05" y2="1494.6" stroke="#000" stroke-width="5" stroke-linecap="butt"/>
<line x1="554.35" y1="1490" x2="554.35" y2="1494.6" stroke="#000" stroke-width="5" stroke-linecap="butt"/>
<line x1="635.65" y1="1490" x2="635.65" y2="1494.6" stroke="#000" stroke-width="5" stroke-linecap="butt"/>
<line x1="716.95" y1="1490" x2="716.95" y2="1494.6" stroke="#000" stroke-width="5" stroke-linecap="butt"/>
<line x1="168.5" y1="1455.2" x2="159.6" y2="1455.2" stroke="#000" stroke-width="5" stroke-linecap="butt"/>
<line x1="168.5" y1="1384.52" x2="159.6" y2="1384.52" stroke="#000" stroke-width="5" stroke-linecap="butt"/>
<line x1="168.5" y1="1313.84" x2="159.6" y2="1313.84" stroke="#000" stroke-width="5" stroke-linecap="butt"/>
<line x1="168.5" y1="1243.16" x2="159.6" y2="1243.16" stroke="#000" stroke-width="5" stroke-linecap="butt"/>
<line x1="168.5" y1="1172.48" x2="159.6" y2="1172.48" stroke="#000" stroke-width="5" stroke-linecap="butt"/>
<line x1="168.5" y1="1101.8" x2="159.6" y2="1101.8" stroke="#000" stroke-width="5" stroke-linecap="butt"/>
<line x1="168.5" y1="1490.54" x2="163.9" y2="1490.54" stroke="#000" stroke-width="5" stroke-linecap="butt"/>
<line x1="168.5" y1="1419.86" x2="163.9" y2="1419.86" stroke="#000" stroke-width="5" stroke-linecap="butt"/>
<line x1="168.5" y1="1349.18" x2="163.9" y2="1349.18" stroke="#000" stroke-width="5" stroke-linecap="butt"/>
<line x1="168.5" y1="1278.5" x2="163.9" y2="1278.5" stroke="#000" stroke-width="5" stroke-linecap="butt"/>
<line x1="168.5" y1="1207.82" x2="163.9" y2="1207.82" stroke="#000" stroke-width="5" stroke-linecap="butt"/>
<line x1="168.5" y1="1137.14" x2="163.9" y2="1137.14" stroke="#000" stroke-width="5" stroke-linecap="butt"/>
<line x1="168.5" y1="1066.46" x2="163.9" y2="1066.46" stroke="#000" stroke-width="5" stroke-linecap="butt"/>
<text transform="translate(188.5,1528.6) scale(1,1.04)" font-family="'Liberation Sans', Arial, sans-serif" font-size="32.5" font-weight="normal" text-anchor="middle" fill="#000" >100</text>
<text transform="translate(269.8,1528.6) scale(1,1.04)" font-family="'Liberation Sans', Arial, sans-serif" font-size="32.5" font-weight="normal" text-anchor="middle" fill="#000" >120</text>
<text transform="translate(351.1,1528.6) scale(1,1.04)" font-family="'Liberation Sans', Arial, sans-serif" font-size="32.5" font-weight="normal" text-anchor="middle" fill="#000" >140</text>
<text transform="translate(432.4,1528.6) scale(1,1.04)" font-family="'Liberation Sans', Arial, sans-serif" font-size="32.5" font-weight="normal" text-anchor="middle" fill="#000" >160</text>
<text transform="translate(513.7,1528.6) scale(1,1.04)" font-family="'Liberation Sans', Arial, sans-serif" font-size="32.5" font-weight="normal" text-anchor="middle" fill="#000" >180</text>
<text transform="translate(595,1528.6) scale(1,1.04)" font-family="'Liberation Sans', Arial, sans-serif" font-size="32.5" font-weight="normal" text-anchor="middle" fill="#000" >200</text>
<text transform="translate(676.3,1528.6) scale(1,1.04)" font-family="'Liberation Sans', Arial, sans-serif" font-size="32.5" font-weight="normal" text-anchor="middle" fill="#000" >220</text>
<text transform="translate(154.3,1464.4) scale(1,1.04)" font-family="'Liberation Sans', Arial, sans-serif" font-size="32.5" font-weight="normal" text-anchor="end" fill="#000" >0</text>
<text transform="translate(154.3,1393.72) scale(1,1.04)" font-family="'Liberation Sans', Arial, sans-serif" font-size="32.5" font-weight="normal" text-anchor="end" fill="#000" >20</text>
<text transform="translate(154.3,1323.04) scale(1,1.04)" font-family="'Liberation Sans', Arial, sans-serif" font-size="32.5" font-weight="normal" text-anchor="end" fill="#000" >40</text>
<text transform="translate(154.3,1252.36) scale(1,1.04)" font-family="'Liberation Sans', Arial, sans-serif" font-size="32.5" font-weight="normal" text-anchor="end" fill="#000" >60</text>
<text transform="translate(154.3,1181.68) scale(1,1.04)" font-family="'Liberation Sans', Arial, sans-serif" font-size="32.5" font-weight="normal" text-anchor="end" fill="#000" >80</text>
<text transform="translate(154.3,1111) scale(1,1.04)" font-family="'Liberation Sans', Arial, sans-serif" font-size="32.5" font-weight="normal" text-anchor="end" fill="#000" >100</text>
<text transform="translate(90.9,1281.15) rotate(-90) scale(1,1.04)" font-family="'Liberation Sans', Arial, sans-serif" font-size="32.95" font-weight="bold" text-anchor="middle" fill="#000">Toluene Conversion (%)</text>
<text transform="translate(452.9,1565.5) scale(1,1.04)" font-family="'Liberation Sans', Arial, sans-serif" font-size="31.8" font-weight="bold" text-anchor="middle" fill="#000" >Temperature (°C)</text>
<text transform="translate(4.8,1143.2) scale(1,1.05)" font-family="'Liberation Sans', Arial, sans-serif" font-size="62" font-weight="bold" text-anchor="start" fill="#000" >e</text>
<path d="M188.5 1455.2L229.15 1450.96L269.8 1445.3L310.45 1442.83L351.1 1440.36L391.75 1431.17L432.4 1421.98L473.05 1414.91L513.7 1382.4L554.35 1360.14L595 1294.05L635.65 1179.9L676.3 1114.17L716.95 1101.8" fill="none" stroke="#515151" stroke-width="4.1" stroke-linejoin="round"/>
<rect x="183.99" y="1450.69" width="9.02" height="9.02" fill="#515151"/>
<rect x="224.64" y="1446.45" width="9.02" height="9.02" fill="#515151"/>
<rect x="265.29" y="1440.79" width="9.02" height="9.02" fill="#515151"/>
<rect x="305.94" y="1438.32" width="9.02" height="9.02" fill="#515151"/>
<rect x="346.59" y="1435.85" width="9.02" height="9.02" fill="#515151"/>
<rect x="387.24" y="1426.66" width="9.02" height="9.02" fill="#515151"/>
<rect x="427.89" y="1417.47" width="9.02" height="9.02" fill="#515151"/>
<rect x="468.54" y="1410.4" width="9.02" height="9.02" fill="#515151"/>
<rect x="509.19" y="1377.89" width="9.02" height="9.02" fill="#515151"/>
<rect x="549.84" y="1355.62" width="9.02" height="9.02" fill="#515151"/>
<rect x="590.49" y="1289.54" width="9.02" height="9.02" fill="#515151"/>
<rect x="631.14" y="1175.39" width="9.02" height="9.02" fill="#515151"/>
<rect x="671.79" y="1109.66" width="9.02" height="9.02" fill="#515151"/>
<rect x="712.44" y="1097.29" width="9.02" height="9.02" fill="#515151"/>
<path d="M188.5 1455.2L229.15 1449.55L269.8 1444.95L310.45 1438.59L351.1 1431.17L391.75 1427.63L432.4 1414.56L473.05 1395.48L513.7 1366.85L554.35 1309.6L595 1195.1L635.65 1101.8" fill="none" stroke="#F14040" stroke-width="4.1" stroke-linejoin="round"/>
<circle cx="188.5" cy="1455.2" r="4.8" fill="#F14040"/>
<circle cx="229.15" cy="1449.55" r="4.8" fill="#F14040"/>
<circle cx="269.8" cy="1444.95" r="4.8" fill="#F14040"/>
<circle cx="310.45" cy="1438.59" r="4.8" fill="#F14040"/>
<circle cx="351.1" cy="1431.17" r="4.8" fill="#F14040"/>
<circle cx="391.75" cy="1427.63" r="4.8" fill="#F14040"/>
<circle cx="432.4" cy="1414.56" r="4.8" fill="#F14040"/>
<circle cx="473.05" cy="1395.48" r="4.8" fill="#F14040"/>
<circle cx="513.7" cy="1366.85" r="4.8" fill="#F14040"/>
<circle cx="554.35" cy="1309.6" r="4.8" fill="#F14040"/>
<circle cx="595" cy="1195.1" r="4.8" fill="#F14040"/>
<circle cx="635.65" cy="1101.8" r="4.8" fill="#F14040"/>
<path d="M188.5 1454.14L229.15 1436.82L269.8 1432.58L310.45 1414.56L351.1 1404.31L391.75 1386.29L432.4 1344.59L473.05 1309.6L513.7 1143.85L554.35 1101.8" fill="none" stroke="#1A6FDF" stroke-width="4.1" stroke-linejoin="round"/>
<path d="M188.5 1447.23L194.55 1457.6L182.45 1457.6Z" fill="#1A6FDF"/>
<path d="M229.15 1429.91L235.2 1440.28L223.1 1440.28Z" fill="#1A6FDF"/>
<path d="M269.8 1425.67L275.85 1436.04L263.75 1436.04Z" fill="#1A6FDF"/>
<path d="M310.45 1407.65L316.5 1418.01L304.4 1418.01Z" fill="#1A6FDF"/>
<path d="M351.1 1397.4L357.15 1407.77L345.05 1407.77Z" fill="#1A6FDF"/>
<path d="M391.75 1379.38L397.8 1389.74L385.7 1389.74Z" fill="#1A6FDF"/>
<path d="M432.4 1337.67L438.45 1348.04L426.35 1348.04Z" fill="#1A6FDF"/>
<path d="M473.05 1302.69L479.1 1313.06L467 1313.06Z" fill="#1A6FDF"/>
<path d="M513.7 1136.94L519.75 1147.31L507.65 1147.31Z" fill="#1A6FDF"/>
<path d="M554.35 1094.89L560.4 1105.26L548.3 1105.26Z" fill="#1A6FDF"/>
<line x1="178.1" y1="1094.9" x2="251.5" y2="1094.9" stroke="#515151" stroke-width="4.0"/>
<rect x="210.29" y="1090.39" width="9.02" height="9.02" fill="#515151"/>
<text transform="translate(261,1106.3) scale(1,1.04)" font-family="'Liberation Sans', Arial, sans-serif" font-size="32.4" font-weight="normal" text-anchor="start" fill="#000" >0.1Pt/CN650</text>
<line x1="178.1" y1="1135.2" x2="251.5" y2="1135.2" stroke="#F14040" stroke-width="4.0"/>
<circle cx="214.8" cy="1135.2" r="4.8" fill="#F14040"/>
<text transform="translate(261,1146.6) scale(1,1.04)" font-family="'Liberation Sans', Arial, sans-serif" font-size="32.4" font-weight="normal" text-anchor="start" fill="#000" >0.3Pt/CN650</text>
<line x1="178.1" y1="1175.5" x2="251.5" y2="1175.5" stroke="#1A6FDF" stroke-width="4.0"/>
<path d="M214.8 1168.59L220.85 1178.96L208.75 1178.96Z" fill="#1A6FDF"/>
<text transform="translate(261,1186.9) scale(1,1.04)" font-family="'Liberation Sans', Arial, sans-serif" font-size="32.4" font-weight="normal" text-anchor="start" fill="#000" >0.8Pt/CN650</text>
</g>
<g id="panel-f" class="panel" role="img" aria-label="Arrhenius plots with activation energies">
<rect x="929.8" y="1068.4" width="573.5" height="421.6" fill="none" stroke="#000" stroke-width="5.0"/>
<line x1="988.1" y1="1490" x2="988.1" y2="1497.8" stroke="#000" stroke-width="5" stroke-linecap="butt"/>
<line x1="1075.68" y1="1490" x2="1075.68" y2="1497.8" stroke="#000" stroke-width="5" stroke-linecap="butt"/>
<line x1="1163.26" y1="1490" x2="1163.26" y2="1497.8" stroke="#000" stroke-width="5" stroke-linecap="butt"/>
<line x1="1250.85" y1="1490" x2="1250.85" y2="1497.8" stroke="#000" stroke-width="5" stroke-linecap="butt"/>
<line x1="1338.43" y1="1490" x2="1338.43" y2="1497.8" stroke="#000" stroke-width="5" stroke-linecap="butt"/>
<line x1="1426.01" y1="1490" x2="1426.01" y2="1497.8" stroke="#000" stroke-width="5" stroke-linecap="butt"/>
<line x1="944.31" y1="1490" x2="944.31" y2="1494.2" stroke="#000" stroke-width="5" stroke-linecap="butt"/>
<line x1="1031.89" y1="1490" x2="1031.89" y2="1494.2" stroke="#000" stroke-width="5" stroke-linecap="butt"/>
<line x1="1119.47" y1="1490" x2="1119.47" y2="1494.2" stroke="#000" stroke-width="5" stroke-linecap="butt"/>
<line x1="1207.06" y1="1490" x2="1207.06" y2="1494.2" stroke="#000" stroke-width="5" stroke-linecap="butt"/>
<line x1="1294.64" y1="1490" x2="1294.64" y2="1494.2" stroke="#000" stroke-width="5" stroke-linecap="butt"/>
<line x1="1382.22" y1="1490" x2="1382.22" y2="1494.2" stroke="#000" stroke-width="5" stroke-linecap="butt"/>
<line x1="1469.8" y1="1490" x2="1469.8" y2="1494.2" stroke="#000" stroke-width="5" stroke-linecap="butt"/>
<line x1="929.8" y1="1066.7" x2="921.8" y2="1066.7" stroke="#000" stroke-width="5" stroke-linecap="butt"/>
<line x1="929.8" y1="1151.5" x2="921.8" y2="1151.5" stroke="#000" stroke-width="5" stroke-linecap="butt"/>
<line x1="929.8" y1="1236.3" x2="921.8" y2="1236.3" stroke="#000" stroke-width="5" stroke-linecap="butt"/>
<line x1="929.8" y1="1321.1" x2="921.8" y2="1321.1" stroke="#000" stroke-width="5" stroke-linecap="butt"/>
<line x1="929.8" y1="1405.9" x2="921.8" y2="1405.9" stroke="#000" stroke-width="5" stroke-linecap="butt"/>
<line x1="929.8" y1="1490.7" x2="921.8" y2="1490.7" stroke="#000" stroke-width="5" stroke-linecap="butt"/>
<line x1="929.8" y1="1109.1" x2="925.6" y2="1109.1" stroke="#000" stroke-width="5" stroke-linecap="butt"/>
<line x1="929.8" y1="1193.9" x2="925.6" y2="1193.9" stroke="#000" stroke-width="5" stroke-linecap="butt"/>
<line x1="929.8" y1="1278.7" x2="925.6" y2="1278.7" stroke="#000" stroke-width="5" stroke-linecap="butt"/>
<line x1="929.8" y1="1363.5" x2="925.6" y2="1363.5" stroke="#000" stroke-width="5" stroke-linecap="butt"/>
<line x1="929.8" y1="1448.3" x2="925.6" y2="1448.3" stroke="#000" stroke-width="5" stroke-linecap="butt"/>
<text transform="translate(988.1,1528.6) scale(1,1.04)" font-family="'Liberation Sans', Arial, sans-serif" font-size="32.6" font-weight="normal" text-anchor="middle" fill="#000" >2.28</text>
<text transform="translate(1075.68,1528.6) scale(1,1.04)" font-family="'Liberation Sans', Arial, sans-serif" font-size="32.6" font-weight="normal" text-anchor="middle" fill="#000" >2.34</text>
<text transform="translate(1163.26,1528.6) scale(1,1.04)" font-family="'Liberation Sans', Arial, sans-serif" font-size="32.6" font-weight="normal" text-anchor="middle" fill="#000" >2.40</text>
<text transform="translate(1250.85,1528.6) scale(1,1.04)" font-family="'Liberation Sans', Arial, sans-serif" font-size="32.6" font-weight="normal" text-anchor="middle" fill="#000" >2.46</text>
<text transform="translate(1338.43,1528.6) scale(1,1.04)" font-family="'Liberation Sans', Arial, sans-serif" font-size="32.6" font-weight="normal" text-anchor="middle" fill="#000" >2.52</text>
<text transform="translate(1426.01,1528.6) scale(1,1.04)" font-family="'Liberation Sans', Arial, sans-serif" font-size="32.6" font-weight="normal" text-anchor="middle" fill="#000" >2.58</text>
<text transform="translate(916.5,1075.3) scale(1,1.04)" font-family="'Liberation Sans', Arial, sans-serif" font-size="32.8" font-weight="normal" text-anchor="end" fill="#000" >-16.5</text>
<text transform="translate(916.5,1160.1) scale(1,1.04)" font-family="'Liberation Sans', Arial, sans-serif" font-size="32.8" font-weight="normal" text-anchor="end" fill="#000" >-17.0</text>
<text transform="translate(916.5,1244.9) scale(1,1.04)" font-family="'Liberation Sans', Arial, sans-serif" font-size="32.8" font-weight="normal" text-anchor="end" fill="#000" >-17.5</text>
<text transform="translate(916.5,1329.7) scale(1,1.04)" font-family="'Liberation Sans', Arial, sans-serif" font-size="32.8" font-weight="normal" text-anchor="end" fill="#000" >-18.0</text>
<text transform="translate(916.5,1414.5) scale(1,1.04)" font-family="'Liberation Sans', Arial, sans-serif" font-size="32.8" font-weight="normal" text-anchor="end" fill="#000" >-18.5</text>
<text transform="translate(916.5,1499.3) scale(1,1.04)" font-family="'Liberation Sans', Arial, sans-serif" font-size="32.8" font-weight="normal" text-anchor="end" fill="#000" >-19.0</text>
<text transform="translate(833.2,1280.6) rotate(-90) scale(1,1.04)" font-family="'Liberation Sans', Arial, sans-serif" font-size="32.8" font-weight="bold" text-anchor="middle" fill="#000">lnr (mol g<tspan font-size="18.9" dy="-17.3">-1</tspan><tspan dy="17.3"> s</tspan><tspan font-size="18.9" dy="-17.3">-1</tspan><tspan dy="17.3">)</tspan></text>
<text transform="translate(1214.8,1576.8) scale(1,1.04)" font-family="'Liberation Sans', Arial, sans-serif" font-size="31.6" font-weight="bold" text-anchor="middle" fill="#000">1000/T (K<tspan font-size="18.2" dy="-17">-1</tspan><tspan dy="17">)</tspan></text>
<text transform="translate(777.3,1144.6) scale(1,1.02)" font-family="'Liberation Sans', Arial, sans-serif" font-size="62" font-weight="bold" text-anchor="start" fill="#000" >f</text>
<line x1="955" y1="1220" x2="1282" y2="1432.5" stroke="#515151" stroke-width="4.1"/>
<line x1="1031.5" y1="1226.5" x2="1374.5" y2="1448.5" stroke="#F14040" stroke-width="4.1"/>
<line x1="1110.5" y1="1134" x2="1472.2" y2="1363.3" stroke="#1A6FDF" stroke-width="4.1"/>
<rect x="950.58" y="1224.08" width="8.84" height="8.84" fill="#515151"/>
<rect x="1027.08" y="1254.08" width="8.84" height="8.84" fill="#515151"/>
<rect x="1106.08" y="1307.08" width="8.84" height="8.84" fill="#515151"/>
<rect x="1190.08" y="1391.08" width="8.84" height="8.84" fill="#515151"/>
<rect x="1277.58" y="1423.08" width="8.84" height="8.84" fill="#515151"/>
<circle cx="1031.5" cy="1226.5" r="5" fill="#F14040"/>
<circle cx="1110.5" cy="1292.5" r="5" fill="#F14040"/>
<circle cx="1194.5" cy="1318.5" r="5" fill="#F14040"/>
<circle cx="1282" cy="1382" r="5" fill="#F14040"/>
<circle cx="1374.5" cy="1458.5" r="5" fill="#F14040"/>
<path d="M1110.5 1128.46L1116.48 1138.72L1104.52 1138.72Z" fill="#1A6FDF"/>
<path d="M1194.5 1178.56L1200.48 1188.82L1188.52 1188.82Z" fill="#1A6FDF"/>
<path d="M1282 1219.16L1287.98 1229.42L1276.02 1229.42Z" fill="#1A6FDF"/>
<path d="M1374.5 1316.16L1380.48 1326.42L1368.52 1326.42Z" fill="#1A6FDF"/>
<path d="M1471 1349.96L1476.98 1360.22L1465.02 1360.22Z" fill="#1A6FDF"/>
<rect x="1257.54" y="1088.04" width="8.93" height="8.93" fill="#515151"/>
<text transform="translate(1308,1103.1) scale(1,1.04)" font-family="'Liberation Sans', Arial, sans-serif" font-size="32.5" font-weight="normal" text-anchor="start" fill="#000" >0.1Pt/CN650</text>
<circle cx="1262" cy="1132.9" r="4.75" fill="#F14040"/>
<text transform="translate(1308,1143.3) scale(1,1.04)" font-family="'Liberation Sans', Arial, sans-serif" font-size="32.5" font-weight="normal" text-anchor="start" fill="#000" >0.3Pt/CN650</text>
<path d="M1262 1166.36L1267.98 1176.62L1256.02 1176.62Z" fill="#1A6FDF"/>
<text transform="translate(1308,1183.4) scale(1,1.04)" font-family="'Liberation Sans', Arial, sans-serif" font-size="32.5" font-weight="normal" text-anchor="start" fill="#000" >0.8Pt/CN650</text>
<text transform="translate(1291,1238) scale(1,1.04)" font-family="'Liberation Sans', Arial, sans-serif" font-size="29" font-weight="normal" text-anchor="start" fill="#1A6FDF" >Ea=46.2 kJ/mol</text>
<text transform="translate(1240.5,1367.9) scale(1,1.04)" font-family="'Liberation Sans', Arial, sans-serif" font-size="29" font-weight="normal" text-anchor="start" fill="#F14040" >Ea=46.3 kJ/mol</text>
<text transform="translate(978,1393.3) scale(1,1.04)" font-family="'Liberation Sans', Arial, sans-serif" font-size="29" font-weight="normal" text-anchor="start" fill="#515151" >Ea=46.9 kJ/mol</text>
</g>
</svg>
</body></html>
